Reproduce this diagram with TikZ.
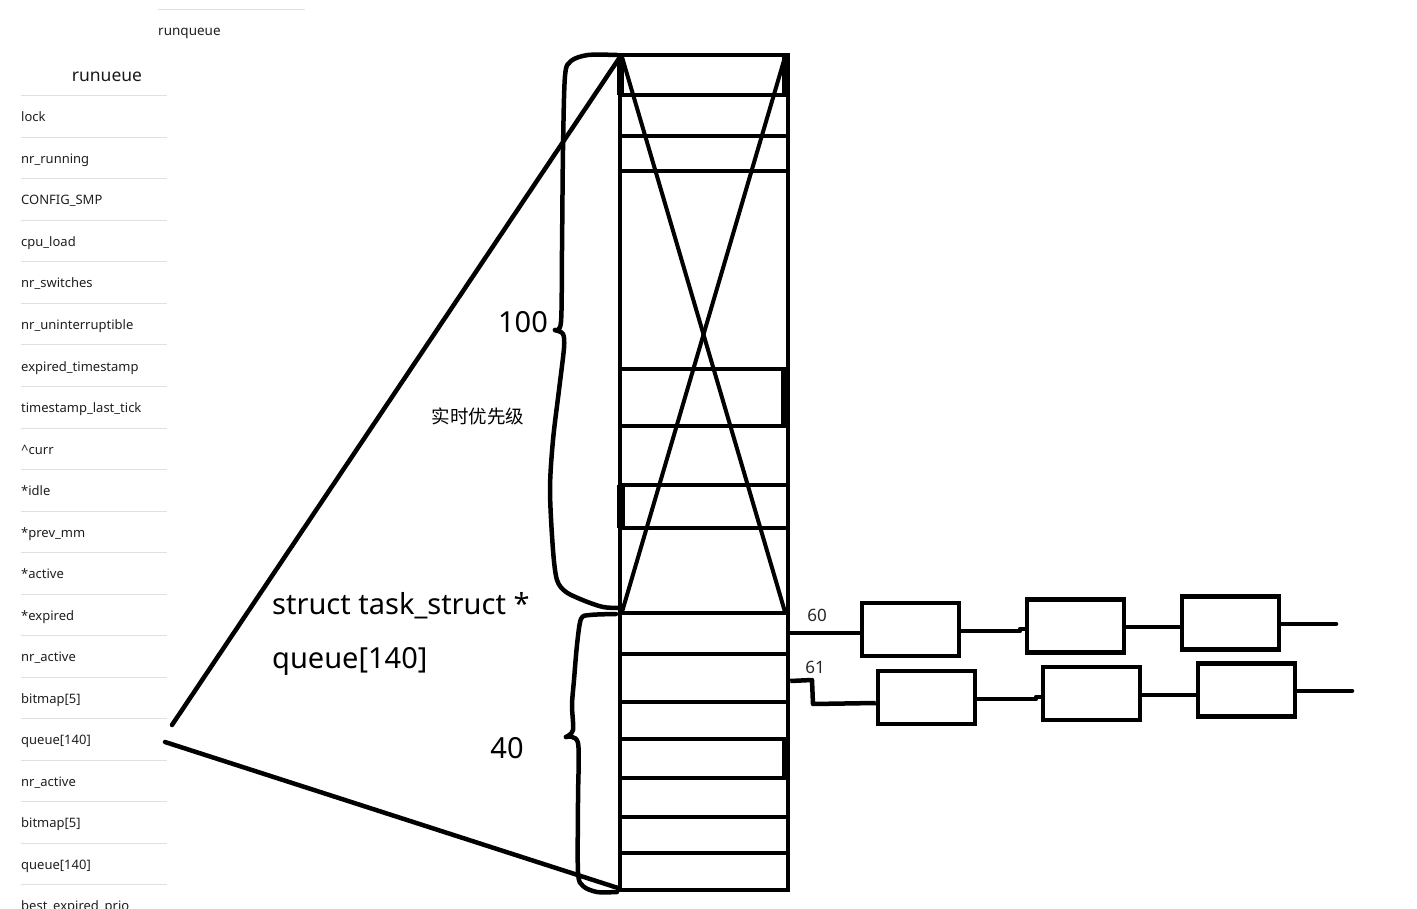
\documentclass[tikz,border=0pt]{standalone}
\usepackage{fontspec}
\setmainfont{Noto Sans}
\newfontfamily\cjk{Noto Sans CJK SC}
\begin{document}
\begin{tikzpicture}[x=1pt,y=-1pt,
  item/.style={anchor=base west, inner sep=0pt, font=\fontsize{13}{15}\selectfont, text=black!88},
  sepline/.style={draw=black!12, line width=1pt},
  heavy/.style={line width=4.5pt, line cap=round, line join=round},
  big/.style={font=\fontsize{29}{34}\selectfont, inner sep=0pt},
  mid/.style={font=\fontsize{17}{20}\selectfont, inner sep=0pt, text=black!85},
  bx/.style={draw, line width=4.5pt, minimum width=97pt, minimum height=53pt, inner sep=0pt}]
\useasboundingbox (0,0) rectangle (1417,909);
% ---- header
\draw[sepline] (158,10) -- (305,10);
\node[item, font=\fontsize{13.5}{15}\selectfont] (rq) at (158,36) {runqueue};
\node[inner sep=0pt, font=\fontsize{17.5}{20}\selectfont, text=black!90] (title) at (107,77) {runueue};
% ---- list
\foreach \t [count=\i] in {lock, nr\_running, CONFIG\_SMP, cpu\_load, nr\_switches,
  nr\_uninterruptible, expired\_timestamp, timestamp\_last\_tick, \textasciicircum curr, *idle,
  *prev\_mm, *active, *expired, nr\_active, {bitmap[5]}, {queue[140]}, nr\_active, {bitmap[5]},
  {queue[140]}, best\_expired\_prio}{
  \node[item] (l\i) at (21,{122+41.5*(\i-1)}) {\t};
  \draw[sepline] (21,{96+41.5*(\i-1)}) -- (167,{96+41.5*(\i-1)});
}
% ---- column
\node[draw, line width=4.5pt, minimum width=168pt, minimum height=835pt, inner sep=0pt] (col) at (704,472.5) {};
\foreach \y in {95,136,171,369,426,485,528,613,654,702,739,778,817,853}{
  \draw[line width=4.5pt] (col.west |- 0,\y) -- (col.east |- 0,\y);
}
\fill (617,53) rectangle (624,95);
\fill (782,53) rectangle (790,95);
\fill (781,369) rectangle (790,426);
\fill (617,485) rectangle (625,528);
\fill (782,739) rectangle (790,778);
% X
\coordinate (xa) at (622,57);
\coordinate (xb) at (785,57);
\coordinate (xc) at (785,612);
\coordinate (xd) at (622,612);
\draw[heavy, line width=4pt] (xa) -- (xc);
\draw[heavy, line width=4pt] (xb) -- (xd);
% ---- links to queue[140]
\coordinate (qa) at (172,725);
\coordinate (qb) at (165,742);
\coordinate (ctop) at (620,57);
\coordinate (cbot) at (618,888);
\draw[heavy] (qa) -- (ctop);
\draw[heavy] (qb) -- (cbot);
% ---- braces
\draw[heavy] plot[smooth, tension=0.5] coordinates {(617,55) (588,55) (571,61) (565,76) (563,150) (562,250) (561,322) (555,330)};
\draw[heavy] plot[smooth, tension=0.5] coordinates {(555,330) (563,334) (564,348) (559,390) (553,440) (550,490) (553,550) (557,580) (566,592) (585,601) (603,607) (618,608)};
\draw[heavy] plot[smooth, tension=0.5] coordinates {(616,614) (590,615) (581,619) (577,645) (574,680) (572,705) (573,730) (566,737)};
\draw[heavy] plot[smooth, tension=0.5] coordinates {(566,737) (578,743) (578,800) (578,872) (583,886) (597,892) (617,892)};
% ---- labels
\node[big] (n100) at (523,322) {100};
\node[inner sep=0pt, font=\cjk\fontsize{18.5}{20}\selectfont] (rt) at (478,416) {实时优先级};
\node[big, anchor=west] (st1) at (272,606) {struct task\_struct *};
\node[big, anchor=west] (st2) at (272,661) {queue[140]};
\node[big] (n40) at (507,748) {40};
\node[mid] (n60) at (817,615) {60};
\node[mid] (n61) at (815,667) {61};
% ---- lists
\node[bx] (b1) at (910.5,629.5) {};
\node[bx] (b2) at (1075.5,626) {};
\node[bx] (b3) at (1230.5,623) {};
\node[bx] (b4) at (926.5,697.5) {};
\node[bx] (b5) at (1091.5,693.5) {};
\node[bx] (b6) at (1246.5,690) {};
\coordinate (t1) at (1336,624);
\coordinate (t2) at (1352,691);
\draw[heavy, line cap=butt] (col.east |- 0,633) -- (b1.west |- 0,633);
\draw[heavy, line cap=butt] (b1.east |- 0,631) -- (1020,631) -- (1020,629) -- (b2.west |- 0,629);
\draw[heavy, line cap=butt] (b2.east |- 0,627) -- (b3.west |- 0,627);
\draw[heavy] (b3.east |- t1) -- (t1);
\draw[heavy, line cap=butt] (col.east |- 0,681) -- (812,680) -- (813,704) -- (b4.west |- 0,703);
\draw[heavy, line cap=butt] (b4.east |- 0,699) -- (1036,699) -- (1036,697) -- (b5.west |- 0,697);
\draw[heavy, line cap=butt] (b5.east |- 0,695) -- (b6.west |- 0,695);
\draw[heavy] (b6.east |- t2) -- (t2);
\end{tikzpicture}
\end{document}
